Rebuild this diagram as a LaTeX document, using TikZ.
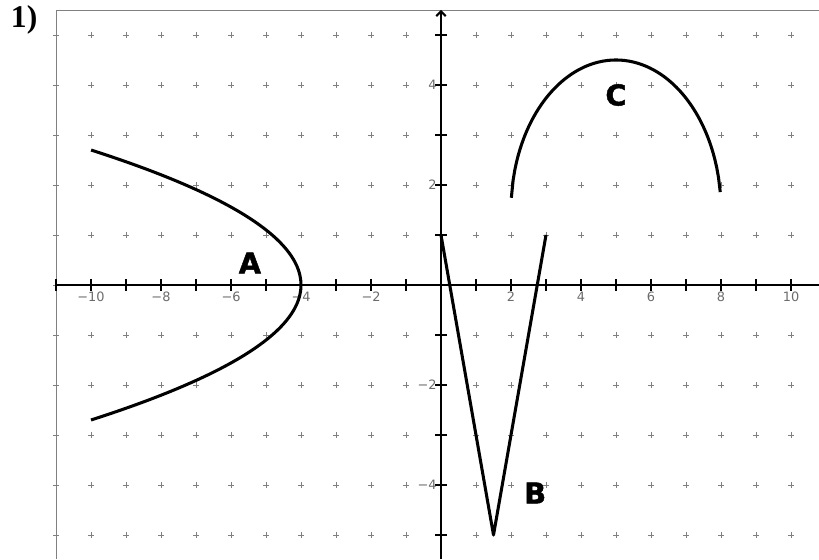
\documentclass[tikz,border=0pt]{standalone}
\usepackage{fontspec}
\setmainfont{Liberation Serif}
\newfontfamily\tickfont{DejaVu Sans}
\newfontfamily\curvefont[BoldFeatures={FakeBold=1.6}]{DejaVu Sans}
\usetikzlibrary{arrows.meta}
\tikzset{
  gridplus/.style={gray, line width=0.6pt},
  axisline/.style={line width=1.7pt},
  axistick/.style={line width=1.4pt},
  curve/.style={line width=2.6pt, line join=round},
  ticklbl/.style={text=gray!85!black, font=\tickfont\fontsize{11}{11}\selectfont, inner sep=0pt},
  curvelbl/.style={font=\curvefont\bfseries\fontsize{24.5}{24.5}\selectfont, inner sep=0pt},
}
\begin{document}
\begin{tikzpicture}[x=1.05cm, y=1.5cm]
	\useasboundingbox (-12.6,-5.48) rectangle (10.8,5.7);
	% grid of small crosses
	\foreach \i in {-11,...,10}
		\foreach \j in {-5,...,5}
			\draw[gridplus] (\i,\j) ++(-2.5pt,0) -- ++(5pt,0) (\i,\j) ++(0,-2.5pt) -- ++(0,5pt);
	% frame
	\draw[gray, line width=0.8pt] (-11,-5.48) -- (-11,5.5) -- (10.8,5.5);
	% axes
	\draw[axisline] (-11,0) -- (10.8,0);
	\draw[axisline, -{Straight Barb[length=4pt,width=8pt]}] (0,-5.48) -- (0,5.5);
	\foreach \i in {-11,...,10}
		\draw[axistick] (\i,0) ++(0,-5pt) -- ++(0,10pt);
	\foreach \j in {-5,...,5}
		\draw[axistick] (0,\j) ++(-5pt,0) -- ++(10pt,0);
	% tick labels
	\foreach \i/\t in {-10/−10,-8/−8,-6/−6,-4/−4,-2/−2,2/2,4/4,6/6,8/8,10/10}
		\node[ticklbl] (xl\i) at (\i,-0.24) {\t};
	\foreach \j/\t in {4/4,2/2,-2/−2,-4/−4}
		\node[ticklbl, anchor=east] (yl\j) at (-0.12,\j) {\t};
	% curves
	\draw[curve] plot[domain=-2.7:2.7, samples=80] ({-4-0.823*\x*\x},\x);
	\draw[curve] (0,1) -- (1.5,-5) -- (3,1);
	\draw[curve] plot[domain=2.01:7.98, samples=120] (\x,{1.5+sqrt(abs(9-(\x-5)*(\x-5)))});
	\node[curvelbl] (lblA) at (-5.46,0.44) {A};
	\node[curvelbl] (lblB) at (2.69,-4.16) {B};
	\node[curvelbl] (lblC) at (5.0,3.8) {C};
	\node[font=\bfseries\fontsize{27}{27}\selectfont, inner sep=0pt] (num) at (-11.91,5.3) {1)};
\end{tikzpicture}
\end{document}
